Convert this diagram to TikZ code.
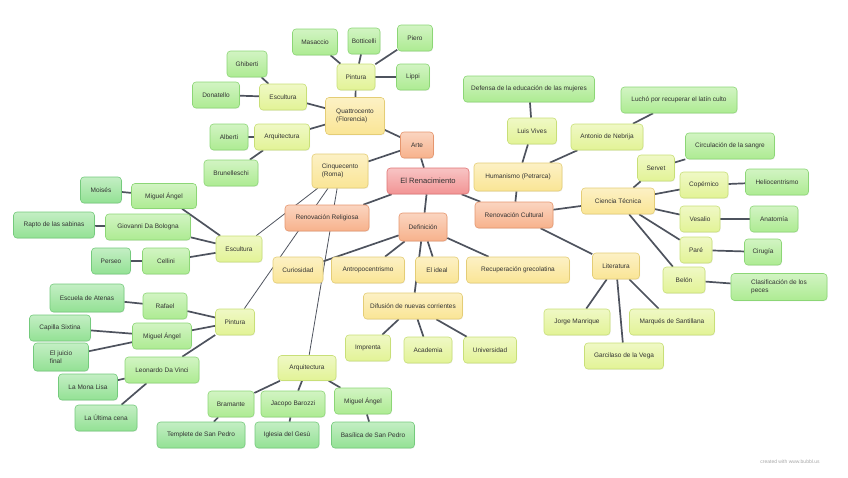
\documentclass[tikz,border=0pt]{standalone}
\usepackage{fontspec}
\setmainfont{Liberation Sans}
\usetikzlibrary{backgrounds, shadows}
\definecolor{linkgray}{HTML}{4E535E}
\definecolor{redfill}{HTML}{F29494}
\definecolor{redline}{HTML}{E07474}
\definecolor{orangefill}{HTML}{F7B28C}
\definecolor{orangeline}{HTML}{E5966E}
\definecolor{yellowfill}{HTML}{FAE595}
\definecolor{yellowline}{HTML}{E4CD76}
\definecolor{limefill}{HTML}{E2F396}
\definecolor{limeline}{HTML}{C8DF78}
\definecolor{greenfill}{HTML}{ADEB92}
\definecolor{greenline}{HTML}{8CD676}
\definecolor{leaffill}{HTML}{93E194}
\definecolor{leafline}{HTML}{74CA7C}
\definecolor{textgray}{HTML}{333333}

\begin{document}
\begin{tikzpicture}[x=1pt, y=-1pt,
  bubble/.style={rounded corners=3.5pt, line width=0.6pt, inner sep=2pt,
    minimum height=26pt, text=textgray, align=center,
    font=\fontsize{6.5}{7.6}\selectfont,
    drop shadow={opacity=0.12, shadow xshift=0.6pt, shadow yshift=-0.9pt}},
  rootbox/.style={bubble, draw=redline, top color=redfill!55!white, bottom color=redfill,
    font=\fontsize{7.6}{9}\selectfont},
  mainbox/.style={bubble, draw=orangeline, top color=orangefill!55!white, bottom color=orangefill},
  subbox/.style={bubble, draw=yellowline, top color=yellowfill!55!white, bottom color=yellowfill},
  itembox/.style={bubble, draw=limeline, top color=limefill!55!white, bottom color=limefill},
  namebox/.style={bubble, draw=greenline, top color=greenfill!55!white, bottom color=greenfill},
  workbox/.style={bubble, draw=leafline, top color=leaffill!55!white, bottom color=leaffill},
  link/.style={draw=linkgray, line width=1.7pt},
  thinlink/.style={draw=linkgray, line width=0.8pt}]
\useasboundingbox (0,0) rectangle (848,477);

\node[rootbox, minimum width=82pt] (ren) at (428,181) {El Renacimiento};

\node[mainbox, minimum width=33pt] (arte) at (417,145) {Arte};
\node[mainbox, minimum width=84pt] (relig) at (327,218) {Renovación Religiosa};
\node[mainbox, minimum width=48pt, minimum height=28pt] (defin) at (423,227) {Definición};
\node[mainbox, minimum width=78pt] (cult) at (514,215) {Renovación Cultural};

\node[subbox, minimum width=59pt, minimum height=37pt, align=left] (quattro) at (355,116) {Quattrocento\\(Florencia)};
\node[subbox, minimum width=56pt, minimum height=34pt, align=left] (cinque) at (340,171) {Cinquecento\\(Roma)};
\node[subbox, minimum width=50pt] (curios) at (298,270) {Curiosidad};
\node[subbox, minimum width=73pt] (antro) at (368,270) {Antropocentrismo};
\node[subbox, minimum width=43pt] (ideal) at (437,270) {El ideal};
\node[subbox, minimum width=103pt] (recup) at (518,270) {Recuperación grecolatina};
\node[subbox, minimum width=99pt] (difus) at (413,306) {Difusión de nuevas corrientes};
\node[subbox, minimum width=88pt, minimum height=28pt] (human) at (518,177) {Humanismo (Petrarca)};
\node[subbox, minimum width=73pt] (ciencia) at (618,201) {Ciencia Técnica};
\node[subbox, minimum width=47pt] (liter) at (616,266) {Literatura};

\node[itembox, minimum width=38pt] (pinta) at (356,77) {Pintura};
\node[itembox, minimum width=47pt] (escula) at (283,97) {Escultura};
\node[itembox, minimum width=55pt] (arquia) at (282,137) {Arquitectura};
\node[itembox, minimum width=46pt] (esculb) at (239,249) {Escultura};
\node[itembox, minimum width=39pt] (pintb) at (235,322) {Pintura};
\node[itembox, minimum width=58pt, minimum height=25pt] (arquib) at (307,368) {Arquitectura};
\node[itembox, minimum width=45pt] (imprenta) at (368,348) {Imprenta};
\node[itembox, minimum width=48pt] (academia) at (428,350) {Academia};
\node[itembox, minimum width=53pt] (univ) at (490,350) {Universidad};
\node[itembox, minimum width=49pt] (vives) at (532,131) {Luis Vives};
\node[itembox, minimum width=72pt] (nebrija) at (607,137) {Antonio de Nebrija};
\node[itembox, minimum width=37pt] (servet) at (656,168) {Servet};
\node[itembox, minimum width=48pt] (copern) at (704,185) {Copérnico};
\node[itembox, minimum width=40pt] (vesalio) at (700,219) {Vesalio};
\node[itembox, minimum width=32pt] (pare) at (696,250) {Paré};
\node[itembox, minimum width=42pt] (belon) at (684,280) {Belón};
\node[itembox, minimum width=66pt] (manrique) at (577,322) {Jorge Manrique};
\node[itembox, minimum width=85pt] (santill) at (672,322) {Marqués de Santillana};
\node[itembox, minimum width=79pt] (garcil) at (624,356) {Garcilaso de la Vega};

\node[namebox, minimum width=45pt] (masaccio) at (315,42) {Masaccio};
\node[namebox, minimum width=32pt] (botti) at (364,41) {Botticelli};
\node[namebox, minimum width=35pt] (piero) at (415,38) {Piero};
\node[namebox, minimum width=33pt] (lippi) at (413,77) {Lippi};
\node[namebox, minimum width=40pt] (ghiberti) at (247,64) {Ghiberti};
\node[namebox, minimum width=47pt] (donat) at (216,95) {Donatello};
\node[namebox, minimum width=38pt] (alberti) at (229,137) {Alberti};
\node[namebox, minimum width=54pt] (brunel) at (231,173) {Brunelleschi};
\node[namebox, minimum width=131pt] (defensa) at (529,89) {Defensa de la educación de las mujeres};
\node[namebox, minimum width=116pt] (lucho) at (679,100) {Luchó por recuperar el latín culto};
\node[namebox, minimum width=89pt] (circul) at (730,146) {Circulación de la sangre};
\node[namebox, minimum width=63pt] (helio) at (777,182) {Heliocentrismo};
\node[namebox, minimum width=48pt] (anato) at (774,219) {Anatomía};
\node[namebox, minimum width=37pt] (cirug) at (763,252) {Cirugía};
\node[namebox, minimum width=96pt, minimum height=27pt, align=left] (clasif) at (779,287) {Clasificación de los\\peces};
\node[namebox, minimum width=65pt, minimum height=25pt] (maesc) at (164,196) {Miguel Ángel};
\node[namebox, minimum width=85pt] (giov) at (148,227) {Giovanni Da Bologna};
\node[namebox, minimum width=47pt] (cellini) at (166,261) {Cellini};
\node[namebox, minimum width=44pt] (rafael) at (165,306) {Rafael};
\node[namebox, minimum width=59pt] (mapint) at (162,336) {Miguel Ángel};
\node[namebox, minimum width=74pt] (leon) at (162,370) {Leonardo Da Vinci};
\node[namebox, minimum width=46pt] (bram) at (231,404) {Bramante};
\node[namebox, minimum width=64pt] (jacopo) at (293,404) {Jacopo Barozzi};
\node[namebox, minimum width=57pt] (maarq) at (363,401) {Miguel Ángel};

\node[workbox, minimum width=41pt] (moises) at (101,190) {Moisés};
\node[workbox, minimum width=81pt] (rapto) at (54,225) {Rapto de las sabinas};
\node[workbox, minimum width=39pt] (perseo) at (111,261) {Perseo};
\node[workbox, minimum width=74pt, minimum height=28pt] (atenas) at (87,298) {Escuela de Atenas};
\node[workbox, minimum width=61pt] (sixtina) at (60,328) {Capilla Sixtina};
\node[workbox, minimum width=55pt, minimum height=28pt, align=left] (juicio) at (61,357) {El juicio\\final};
\node[workbox, minimum width=59pt] (mona) at (88,387) {La Mona Lisa};
\node[workbox, minimum width=62pt] (cena) at (106,418) {La Última cena};
\node[workbox, minimum width=88pt] (templete) at (201,435) {Templete de San Pedro};
\node[workbox, minimum width=64pt] (gesu) at (287,435) {Iglesia del Gesù};
\node[workbox, minimum width=83pt] (basil) at (373,435) {Basílica de San Pedro};

\node[text=black!35, font=\fontsize{5}{6}\selectfont] (credit) at (790,462) {created with www.bubbl.us};

\begin{scope}[on background layer]
\draw[link] (ren) -- (arte);
\draw[link] (ren) -- (relig);
\draw[link] (ren) -- (defin);
\draw[link] (ren) -- (cult);
\draw[link] (arte) -- (quattro);
\draw[link] (arte) -- (cinque);
\draw[link] (quattro) -- (pinta);
\draw[link] (quattro) -- (escula);
\draw[link] (quattro) -- (arquia);
\draw[link] (pinta) -- (masaccio);
\draw[link] (pinta) -- (botti);
\draw[link] (pinta) -- (piero);
\draw[link] (pinta) -- (lippi);
\draw[link] (escula) -- (ghiberti);
\draw[link] (escula) -- (donat);
\draw[link] (arquia) -- (alberti);
\draw[link] (arquia) -- (brunel);
\draw[thinlink] (cinque) -- (esculb);
\draw[thinlink] (cinque) -- (pintb);
\draw[thinlink] (cinque) -- (arquib);
\draw[link] (esculb) -- (maesc);
\draw[link] (esculb) -- (giov);
\draw[link] (esculb) -- (cellini);
\draw[link] (maesc) -- (moises);
\draw[link] (giov) -- (rapto);
\draw[link] (cellini) -- (perseo);
\draw[link] (pintb) -- (rafael);
\draw[link] (pintb) -- (mapint);
\draw[link] (pintb) -- (leon);
\draw[link] (rafael) -- (atenas);
\draw[link] (mapint) -- (sixtina);
\draw[link] (mapint) -- (juicio);
\draw[link] (leon) -- (mona);
\draw[link] (leon) -- (cena);
\draw[link] (arquib) -- (bram);
\draw[link] (arquib) -- (jacopo);
\draw[link] (arquib) -- (maarq);
\draw[link] (bram) -- (templete);
\draw[link] (jacopo) -- (gesu);
\draw[link] (maarq) -- (basil);
\draw[link] (defin) -- (curios);
\draw[link] (defin) -- (antro);
\draw[link] (defin) -- (ideal);
\draw[link] (defin) -- (recup);
\draw[link] (defin) -- (difus);
\draw[link] (difus) -- (imprenta);
\draw[link] (difus) -- (academia);
\draw[link] (difus) -- (univ);
\draw[link] (cult) -- (human);
\draw[link] (cult) -- (ciencia);
\draw[link] (cult) -- (liter);
\draw[link] (human) -- (vives);
\draw[link] (human) -- (nebrija);
\draw[link] (vives) -- (defensa);
\draw[link] (nebrija) -- (lucho);
\draw[link] (ciencia) -- (servet);
\draw[link] (ciencia) -- (copern);
\draw[link] (ciencia) -- (vesalio);
\draw[link] (ciencia) -- (pare);
\draw[link] (ciencia) -- (belon);
\draw[link] (servet) -- (circul);
\draw[link] (copern) -- (helio);
\draw[link] (vesalio) -- (anato);
\draw[link] (pare) -- (cirug);
\draw[link] (belon) -- (clasif);
\draw[link] (liter) -- (manrique);
\draw[link] (liter) -- (santill);
\draw[link] (liter) -- (garcil);
\end{scope}
\end{tikzpicture}
\end{document}
